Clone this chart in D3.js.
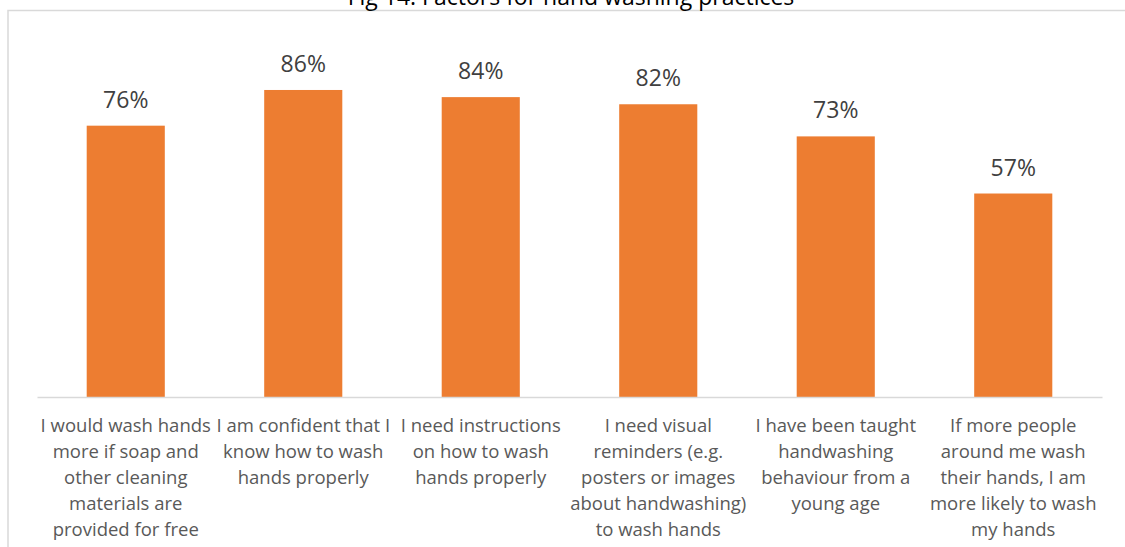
<!DOCTYPE html>
<html>
<head>
<meta charset="utf-8">
<script src="https://cdn.jsdelivr.net/npm/d3@7"></script>
<style>
  html, body { margin: 0; padding: 0; background: #ffffff; }
  svg { display: block; }
</style>
</head>
<body>
<svg id="chart" width="1125" height="547"></svg>
<script>
// Survey statements (line breaks as they wrap under each bar)
const categories = [
  "I would wash hands\nmore if soap and\nother cleaning\nmaterials are\nprovided for free",
  "I am confident that I\nknow how to wash\nhands properly",
  "I need instructions\non how to wash\nhands properly",
  "I need visual\nreminders (e.g.\nposters or images\nabout handwashing)\nto wash hands",
  "I have been taught\nhandwashing\nbehaviour from a\nyoung age",
  "If more people\naround me wash\ntheir hands, I am\nmore likely to wash\nmy hands"
];
const values = [76, 86, 84, 82, 73, 57];
const valueLabels = ["76%", "86%", "84%", "82%", "73%", "57%"];
const titleText = "Fig 14: Factors for hand washing practices";

const svg = d3.select("#chart");
const plot = { left: 37, right: 1102, top: 40, bottom: 397 };

// chart frame (extends past the visible edges)
svg.append("rect")
  .attr("x", 8).attr("y", 10.5)
  .attr("width", 1140).attr("height", 600)
  .attr("fill", "none")
  .attr("stroke", "#d9d9d9")
  .attr("stroke-width", 1.5);

// title, sitting just above the frame
svg.append("text")
  .attr("x", 571).attr("y", 5)
  .attr("text-anchor", "middle")
  .attr("font-family", "'Open Sans', sans-serif")
  .attr("font-size", 23)
  .attr("fill", "#000000")
  .text(titleText);

const x = d3.scaleBand()
  .domain(categories)
  .range([plot.left, plot.right])
  .paddingInner(0.56)
  .paddingOuter(0.28);

const y = d3.scaleLinear()
  .domain([0, 100])
  .range([plot.bottom, plot.top]);

// bars
svg.append("g")
  .selectAll("rect")
  .data(values)
  .join("rect")
  .attr("x", (d, i) => x(categories[i]))
  .attr("y", d => y(d))
  .attr("width", x.bandwidth())
  .attr("height", d => y(0) - y(d))
  .attr("fill", "#ed7d31");

// value labels
svg.append("g")
  .selectAll("text")
  .data(values)
  .join("text")
  .attr("x", (d, i) => x(categories[i]) + x.bandwidth() / 2)
  .attr("y", d => y(d) - 18)
  .attr("text-anchor", "middle")
  .attr("font-family", "'Open Sans', sans-serif")
  .attr("font-size", 23)
  .attr("fill", "#404040")
  .text((d, i) => valueLabels[i]);

// category axis
const xAxis = d3.axisBottom(x).tickSize(0).tickSizeOuter(0).tickFormat("");
const axisG = svg.append("g")
  .attr("transform", `translate(0,${plot.bottom})`)
  .call(xAxis);
axisG.select(".domain")
  .attr("stroke", "#d9d9d9")
  .attr("stroke-width", 1.5);

// multi-line category labels
const labelG = svg.append("g")
  .attr("font-family", "'Open Sans', sans-serif")
  .attr("font-size", 18.5)
  .attr("fill", "#595959")
  .attr("text-anchor", "middle");

categories.forEach(c => {
  const cx = x(c) + x.bandwidth() / 2;
  const t = labelG.append("text").attr("x", cx).attr("y", 432);
  c.split("\n").forEach((line, j) => {
    t.append("tspan")
      .attr("x", cx)
      .attr("y", 432 + j * 26)
      .text(line);
  });
});
</script>
</body>
</html>
